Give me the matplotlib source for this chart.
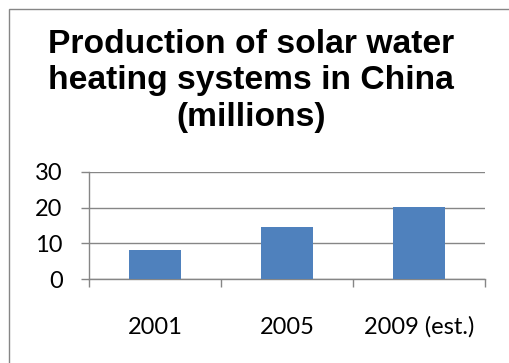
import matplotlib
matplotlib.use('Agg')
import matplotlib.pyplot as plt
from matplotlib.patches import Rectangle

# Data
years = ['2001', '2005', '2009 (est.)']
units = [8, 14.6, 20.1]  # millions
y_ticks = [0, 10, 20, 30]

title_lines = ['Production of solar water', 'heating systems in China', '(millions)']
title_baselines = [53, 89.5, 126]  # px from top
bar_color = '#4F81BD'
grey = '#868686'

fig = plt.figure(figsize=(5.09, 3.63), dpi=100)
fig.patch.set_facecolor('white')

# outer chart border (runs off the right and bottom edges)
fig.patches.append(Rectangle((9/509, -0.05), 1.2, 1 - 9/363 + 0.05,
                             transform=fig.transFigure, fill=False,
                             edgecolor=grey, linewidth=1.0))

for line, yb in zip(title_lines, title_baselines):
    fig.text(251/509, 1 - yb/363, line, ha='center', va='baseline',
             family='Liberation Sans', weight='bold', fontsize=24.2)

ax = fig.add_axes([89/509, 1 - 279/363, (485 - 89)/509, (279 - 172)/363])
x = range(len(years))
ax.bar(x, units, width=0.39, color=bar_color, zorder=3)

ax.set_xlim(-0.5, len(years) - 0.5)
ax.set_ylim(0, 30)
ax.set_yticks(y_ticks)
ax.set_yticklabels([str(v) for v in y_ticks], family='Lato', fontsize=17)
ax.set_xticks([i - 0.5 for i in range(len(years) + 1)], minor=False)
ax.set_xticklabels([])
ax.set_xticks(list(x), minor=True)
ax.set_xticklabels(years, minor=True, family='Lato', fontsize=17)

ax.grid(axis='y', color=grey, linewidth=1.0, zorder=0)
ax.tick_params(axis='y', length=6, width=1.0, color=grey, pad=13)
ax.tick_params(axis='x', which='major', length=6, width=1.0, color=grey)
ax.tick_params(axis='x', which='minor', length=0, pad=27)
for s in ['top', 'right']:
    ax.spines[s].set_visible(False)
for s in ['left', 'bottom']:
    ax.spines[s].set_color(grey)
    ax.spines[s].set_linewidth(1.0)

fig.savefig('out.png', dpi=100, facecolor='white')
